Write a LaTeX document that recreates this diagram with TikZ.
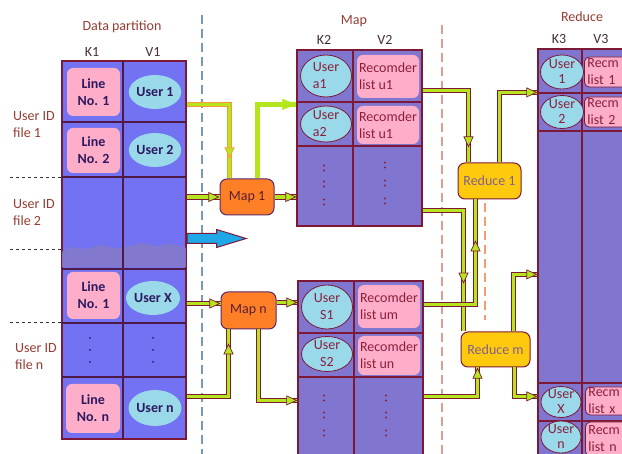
\documentclass[tikz,border=0pt]{standalone}
\usepackage{fontspec}
\setmainfont{Carlito}
\usetikzlibrary{calc,shapes.geometric,shapes.arrows,arrows.meta,decorations.markings}

\definecolor{dpFill}{RGB}{114,114,242}
\definecolor{tabFill}{RGB}{128,118,208}
\definecolor{bandFill}{RGB}{132,122,204}
\definecolor{edgeRed}{RGB}{125,25,55}
\definecolor{gridDark}{RGB}{80,25,70}
\definecolor{pinkBox}{RGB}{255,174,201}
\definecolor{cyanOval}{RGB}{153,217,234}
\definecolor{limeArrow}{RGB}{181,230,29}
\definecolor{orangeBox}{RGB}{255,127,39}
\definecolor{goldBox}{RGB}{255,201,14}
\definecolor{blueArrow}{RGB}{30,168,232}
\definecolor{navyText}{RGB}{45,25,95}
\definecolor{wineText}{RGB}{140,30,60}
\definecolor{labelRed}{RGB}{150,60,50}
\definecolor{labelDark}{RGB}{70,45,55}
\definecolor{slateDash}{RGB}{120,150,190}
\definecolor{tanDash}{RGB}{215,160,145}
\definecolor{orangeDash}{RGB}{240,160,110}
\definecolor{orangeEdge}{RGB}{255,150,60}
\definecolor{mapText}{RGB}{90,30,50}
\definecolor{mapEdge}{RGB}{90,40,100}
\definecolor{reduceText}{RGB}{130,95,140}

\newcommand\cellfont{\fontsize{14}{17}\selectfont}
\newcommand\tightfont{\fontsize{14}{15}\selectfont}

\begin{document}
\begin{tikzpicture}[x=1pt,y=-1pt,
  lbl/.style={font=\cellfont, text=labelRed, inner sep=0pt},
  kv/.style={font=\cellfont, text=labelDark, inner sep=0pt},
  dptab/.style={rectangle, draw=edgeRed, line width=1.2pt, fill=dpFill, inner sep=0pt},
  maptab/.style={rectangle, draw=edgeRed, line width=1.2pt, fill=tabFill, inner sep=0pt},
  dpline/.style={draw=gridDark, line width=1.1pt},
  tabline/.style={draw=edgeRed, line width=1.1pt},
  filesep/.style={draw=black!80, line width=0.8pt, dash pattern=on 3pt off 3pt},
  phasesep/.style={line width=2pt, dash pattern=on 9pt off 5pt},
  linebox/.style={rectangle, rounded corners=6pt, fill=pinkBox, inner sep=0pt, align=center, font={\cellfont\bfseries}, text=navyText},
  useroval/.style={ellipse, fill=cyanOval, inner sep=0pt, align=center, font={\cellfont\bfseries}, text=navyText},
  recbox/.style={rectangle, rounded corners=6pt, fill=pinkBox, inner sep=0pt, align=left, font=\cellfont, text=wineText},
  keyoval/.style={ellipse, fill=cyanOval, draw=edgeRed, line width=0.8pt, inner sep=0pt},
  keytext/.style={inner sep=0pt, align=center, font=\cellfont, text=wineText},
  rkeytext/.style={inner sep=0pt, align=center, font=\tightfont, text=wineText},
  redrec/.style={rectangle, rounded corners=5pt, fill=pinkBox, draw=edgeRed, line width=0.8pt, text width=40pt, inner xsep=3pt, inner ysep=0pt, align=left, font=\cellfont, text=wineText},
  mapbox/.style={rectangle, rounded corners=7pt, fill=orangeBox, draw=mapEdge, line width=1pt, font=\cellfont, text=mapText, inner sep=0pt},
  redbox/.style={rectangle, rounded corners=7pt, fill=goldBox, draw=edgeRed, line width=1pt, font=\cellfont, text=reduceText, inner sep=0pt},
  pipe/.style={draw=limeArrow, line width=3.4pt, preaction={draw=edgeRed, line width=5.6pt}},
  hlpipe/.style={draw=limeArrow, line width=3.4pt, preaction={draw=orangeEdge, line width=5.6pt}},
  brightpipe/.style={draw=limeArrow, line width=4.4pt},
  headat/.style={postaction={decorate, decoration={markings, mark=at position #1 with {\arrow{Triangle[length=11pt,width=10pt,fill=limeArrow,color=edgeRed,line width=0.7pt]}}}}},
  hlheadat/.style={postaction={decorate, decoration={markings, mark=at position #1 with {\arrow{Triangle[length=11pt,width=10pt,fill=limeArrow,color=orangeEdge,line width=0.7pt]}}}}},
  brightheadat/.style={postaction={decorate, decoration={markings, mark=at position #1 with {\arrow{Triangle[length=14pt,width=11pt,fill=limeArrow,color=limeArrow,line width=0.5pt]}}}}},
  bluearrow/.style={single arrow, fill=blueArrow, draw=edgeRed, line width=1pt, inner sep=4.5pt, single arrow head extend=4pt, single arrow tip angle=34, minimum height=59pt}
]
\useasboundingbox (0,0) rectangle (622,454);
\fill[white] (0,0) rectangle (622,454);

% phase separators
\draw[phasesep, slateDash] (202,15) -- (202,454);
\draw[phasesep, tanDash] (442,25) -- (442,454);
\draw[phasesep, orangeDash, line width=1.6pt] (485,203) -- (485,320);

% file boundaries
\draw[filesep] (10,177) -- (62,177);
\draw[filesep] (10,249) -- (62,249);
\draw[filesep] (10,322) -- (62,322);

% headings
\node[lbl] (hdp) at (122,27) {Data partition};
\node[kv] (hk1) at (92,52) {K1};
\node[kv] (hv1) at (153,52) {V1};
\node[lbl] (hmap) at (354,21) {Map};
\node[kv] (hk2) at (324,40) {K2};
\node[kv] (hv2) at (385,40) {V2};
\node[lbl] (hred) at (582,17) {Reduce};
\node[kv] (hk3) at (559,39) {K3};
\node[kv] (hv3) at (601,39) {V3};

\node[lbl, anchor=west, align=left] (file1) at (13,125) {User ID\\file 1};
\node[lbl, anchor=west, align=left] (file2) at (13,212.5) {User ID\\file 2};
\node[lbl, anchor=west, align=left] (filen) at (15,357) {User ID\\file n};

% data partition table
\node[dptab, minimum width=124pt, minimum height=378pt] (dp) at (124,250) {};
\fill[bandFill, opacity=0.9] plot[smooth] coordinates {(62,252) (72,247) (86,249) (100,245) (115,248) (130,246) (142,243) (156,246) (170,244) (186,248)} -- (186,267) -- (62,267) -- cycle;
\draw[dpline] (123,61) -- (123,439);
\foreach \r in {122,177,269,323,377} { \draw[dpline] (62,\r) -- (186,\r); }
\draw[draw=edgeRed, line width=1.2pt] (dp.north west) rectangle (dp.south east);

\node[linebox, minimum width=53pt, minimum height=48pt] (ln1) at (93.5,92) {Line\\No. 1};
\node[useroval, minimum width=52pt, minimum height=34pt] (u1) at (155,92) {User 1};
\node[linebox, minimum width=53pt, minimum height=45pt] (ln2) at (93.5,150.5) {Line\\No. 2};
\node[useroval, minimum width=52pt, minimum height=34pt] (u2) at (155,150) {User 2};
\node[linebox, minimum width=53pt, minimum height=47pt] (ln3) at (93.5,295.5) {Line\\No. 1};
\node[useroval, minimum width=54pt, minimum height=34pt] (ux) at (153,298) {User X};
\node[linebox, minimum width=54pt, minimum height=49pt] (lnn) at (93,408.5) {Line\\No. n};
\node[useroval, minimum width=52pt, minimum height=36pt] (un) at (155,408) {User n};
\foreach \yy in {338,350,362} {
  \fill[navyText] (90,\yy) circle[radius=1pt];
  \fill[navyText] (153,\yy) circle[radius=1pt];
}

% first map output table
\node[maptab, minimum width=125pt, minimum height=176pt] (mapA) at (359.5,138) {};
\draw[tabline] (353,50) -- (353,226);
\draw[tabline] (297,102) -- (422,102);
\draw[tabline] (297,146) -- (422,146);
\node[keyoval, minimum width=51pt, minimum height=42pt] (ka1) at (326,76) {};
\node[keytext, align=left] (ka1t) at (326,76) {User\\a1};
\node[recbox, minimum width=62pt, minimum height=43pt] (va1) at (388,76.5) {Recomder\\list u1};
\node[keyoval, minimum width=51pt, minimum height=36pt] (ka2) at (326,124) {};
\node[keytext, align=left] (ka2t) at (326,124) {User\\a2};
\node[recbox, minimum width=62pt, minimum height=38pt] (va2) at (388,125) {Recomder\\list u1};
\foreach \yy in {168,184,202} {
  \fill[wineText] (324,\yy-2.5) circle[radius=1.1pt] (324,\yy+2.5) circle[radius=1.1pt];
}
\foreach \yy in {165,183,201} {
  \fill[wineText] (385,\yy-2.5) circle[radius=1.1pt] (385,\yy+2.5) circle[radius=1.1pt];
}

% second map output table
\node[maptab, minimum width=125pt, minimum height=179pt] (mapB) at (360.5,370.5) {};
\draw[tabline] (354,281) -- (354,460);
\draw[tabline] (298,333) -- (423,333);
\draw[tabline] (298,377) -- (423,377);
\node[keyoval, minimum width=51pt, minimum height=44pt] (ks1) at (327,307) {};
\node[keytext] (ks1t) at (327,307) {User\\S1};
\node[recbox, minimum width=62pt, minimum height=43pt] (vs1) at (389,306.5) {Recomder\\list um};
\node[keyoval, minimum width=51pt, minimum height=35pt] (ks2) at (327,354) {};
\node[keytext] (ks2t) at (327,354) {User\\S2};
\node[recbox, minimum width=62pt, minimum height=39pt] (vs2) at (389,355.5) {Recomder\\list un};
\foreach \yy in {398,415,433} {
  \fill[wineText] (324,\yy-2.5) circle[radius=1.1pt] (324,\yy+2.5) circle[radius=1.1pt];
  \fill[wineText] (386,\yy-2.5) circle[radius=1.1pt] (386,\yy+2.5) circle[radius=1.1pt];
}

% reduce output table
\node[maptab, minimum width=92pt, minimum height=411pt] (rt) at (584,254.5) {};
\draw[tabline] (582,49) -- (582,460);
\foreach \r in {93,131,383,421} { \draw[tabline] (538,\r) -- (630,\r); }
\node[keyoval, minimum width=43pt, minimum height=34pt] (kr1) at (562,72) {};
\node[rkeytext] (kr1t) at (562,72) {User\\1};
\node[redrec, anchor=west, minimum height=30pt] (vr1) at (584,72) {Recm\\list 1};
\node[keyoval, minimum width=43pt, minimum height=33pt] (kr2) at (562,112) {};
\node[rkeytext] (kr2t) at (562,112) {User\\2};
\node[redrec, anchor=west, minimum height=30pt] (vr2) at (584,112) {Recm\\list 2};
\node[keyoval, minimum width=40pt, minimum height=31pt] (krx) at (561,402) {};
\node[rkeytext] (krxt) at (561,402) {User\\X};
\node[redrec, anchor=west, minimum height=28pt] (vrx) at (585,401) {Recm\\list x};
\node[keyoval, minimum width=40pt, minimum height=32pt] (krn) at (561,437) {};
\node[rkeytext] (krnt) at (561,436.5) {User\\n};
\node[redrec, anchor=west, minimum height=34pt] (vrn) at (585,439) {Recm\\list n};

% map and reduce tasks
\node[mapbox, minimum width=54pt, minimum height=36pt] (map1) at (247,197) {Map 1};
\node[mapbox, minimum width=55pt, minimum height=37pt] (mapn) at (248.5,310.5) {Map n};
\node[redbox, minimum width=63pt, minimum height=36pt] (red1) at (489.5,181) {Reduce 1};
\node[redbox, minimum width=69pt, minimum height=35pt] (redm) at (495.5,349.5) {Reduce m};

\coordinate (mapnIn) at ($(mapn.west)+(0,-7)$);
\coordinate (mapnOut) at ($(mapn.east)+(0,-8)$);

% data flow
\draw[hlpipe, hlheadat=97pt] ($(dp.north east)+(0,44)$) -| ($(map1.north west)+(10,0)$);
\draw[brightpipe, brightheadat=0.999] ($(map1.north west)+(38,0)$) |- ($(mapA.north west)+(0,55)$);
\draw[pipe, headat=0.999] (dp.east |- map1.west) -- (map1.west);
\draw[pipe, headat=0.999] (map1.east) -- (mapA.west |- map1.east);
\node[bluearrow, anchor=tail] (spill) at ($(dp.east)+(0,-11.5)$) {};
\draw[pipe, headat=0.999] (dp.east |- mapnIn) -- (mapnIn);
\draw[pipe, headat=0.999] (mapnOut) -- (mapB.west |- mapnOut);
\draw[pipe, headat=95pt] ($(dp.north east)+(0,336)$) -| ($(mapn.south west)+(8,0)$);
\draw[pipe, headat=0.999] ($(mapn.south west)+(38,0)$) |- ($(mapB.north west)+(0,120)$);

\draw[pipe, headat=103pt] ($(mapA.north east)+(0,41)$) -| ($(red1.north west)+(11,0)$);
\draw[pipe, headat=114pt] ($(mapA.south east)+(0,-16)$) -| ($(redm.north west)+(3,0)$);
\draw[pipe, headat=116pt] ($(mapB.north east)+(0,24)$) -| ($(red1.south west)+(18,0)$);
\draw[pipe, headat=0.999] ($(mapB.north east)+(0,116)$) -| ($(redm.south west)+(17,0)$);
\draw[pipe, headat=0.999] ($(red1.north west)+(42,0)$) |- ($(rt.north west)+(0,44)$);
\draw[pipe, headat=0.999] ($(redm.north east)+(-17,0)$) |- ($(rt.north west)+(0,226)$);
\draw[pipe, headat=0.999] ($(redm.south east)+(-16,0)$) |- ($(rt.north west)+(0,348)$);
\end{tikzpicture}
\end{document}
